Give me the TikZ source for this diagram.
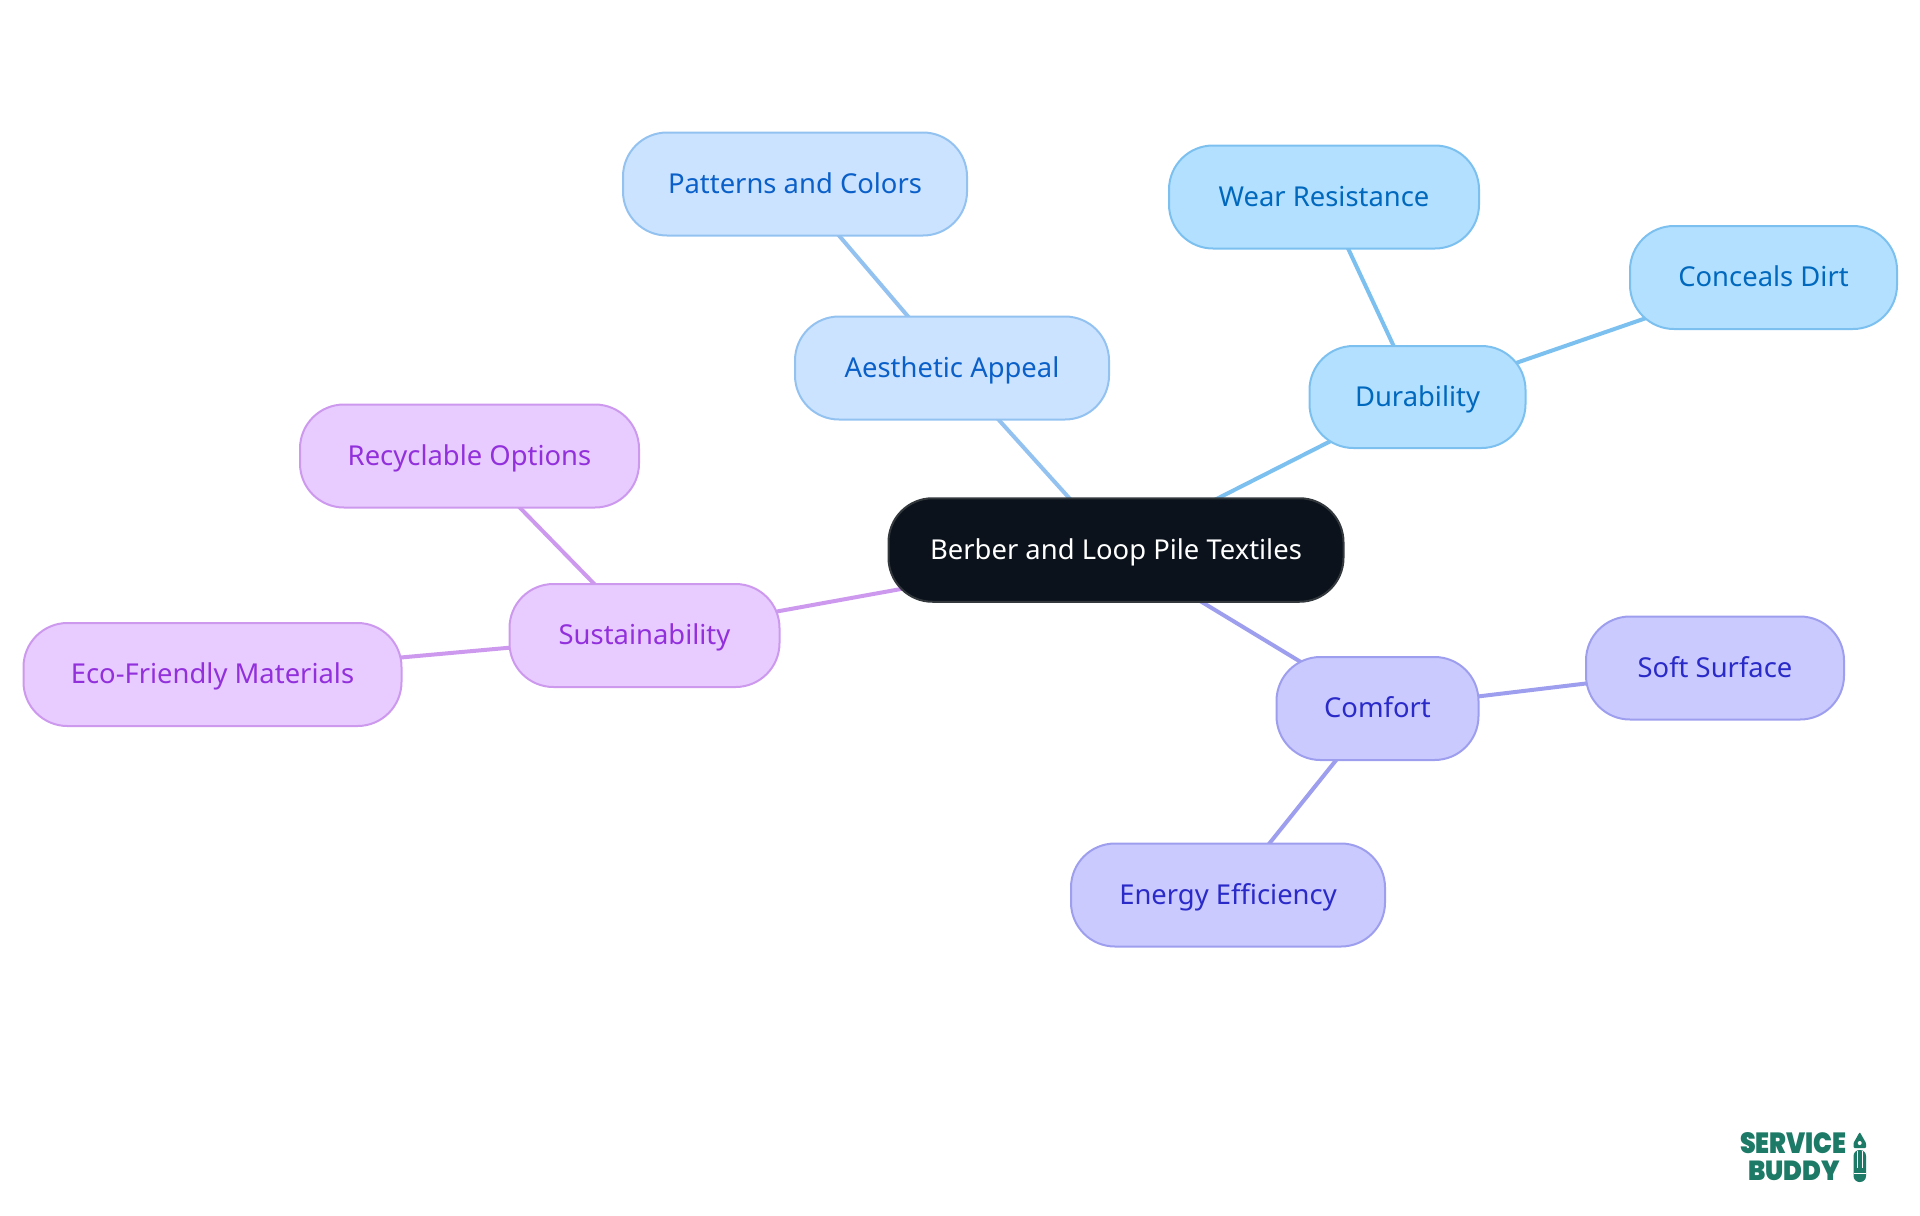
\documentclass[tikz,border=0pt]{standalone}
\usepackage{fontspec}
\setmainfont{Noto Sans}
\newfontfamily\logofont{Poppins Black}
\usetikzlibrary{backgrounds}
\definecolor{rootfill}{HTML}{0B121B}
\definecolor{rootline}{HTML}{33383D}
\definecolor{durfill}{HTML}{B3E0FF}
\definecolor{durline}{HTML}{7CC0F0}
\definecolor{durtext}{HTML}{0068BD}
\definecolor{aesfill}{HTML}{CCE3FF}
\definecolor{aesline}{HTML}{93C2F1}
\definecolor{aestext}{HTML}{0A60C8}
\definecolor{susfill}{HTML}{E8CCFF}
\definecolor{susline}{HTML}{CC99EE}
\definecolor{sustext}{HTML}{9230DC}
\definecolor{comfill}{HTML}{CACAFF}
\definecolor{comline}{HTML}{9E9EEE}
\definecolor{comtext}{HTML}{2A2AC8}
\definecolor{logogreen}{HTML}{1C7A66}
\tikzset{
  x=0.5pt,y=-0.5pt,
  mind/.style={rounded corners=22pt,line width=1pt,inner sep=0pt,anchor=center,
    text height=12.5pt,text depth=3.5pt,font=\fontsize{13.7}{16}\selectfont},
  rootnode/.style={mind,fill=rootfill,draw=rootline,text=white},
  durnode/.style={mind,fill=durfill,draw=durline,text=durtext},
  aesnode/.style={mind,fill=aesfill,draw=aesline,text=aestext},
  susnode/.style={mind,fill=susfill,draw=susline,text=sustext},
  comnode/.style={mind,fill=comfill,draw=comline,text=comtext},
  edge/.style={line width=2pt},
  logotext/.style={inner sep=0pt,anchor=center,text=logogreen,font=\logofont\fontsize{13.5}{14}\selectfont}
}
\newcommand{\bx}[5]{\node[#1,minimum width=#2*0.5pt,minimum height=#3*0.5pt] (#4) at #5}
\begin{document}
\begin{tikzpicture}
\useasboundingbox (0,0) rectangle (1920,1215);
\bx{rootnode}{455}{103.5}{root}{(1116,550)} {Berber and Loop Pile Textiles};
\bx{durnode}{216}{102}{dur}{(1417.5,397)} {Durability};
\bx{durnode}{310}{103}{wear}{(1324,197)} {Wear Resistance};
\bx{durnode}{267}{103}{dirt}{(1763.5,277.5)} {Conceals Dirt};
\bx{aesnode}{314}{103}{aes}{(952,368)} {Aesthetic Appeal};
\bx{aesnode}{344}{103}{pat}{(795,184)} {Patterns and Colors};
\bx{susnode}{270}{103}{sus}{(644.5,635.5)} {Sustainability};
\bx{susnode}{339}{103}{rec}{(469.5,456)} {Recyclable Options};
\bx{susnode}{378}{103}{eco}{(212.5,674.5)} {Eco-Friendly Materials};
\bx{comnode}{202}{103}{com}{(1377.5,708.5)} {Comfort};
\bx{comnode}{258}{103}{soft}{(1715,668)} {Soft Surface};
\bx{comnode}{314}{103}{ener}{(1228,895)} {Energy Efficiency};
\begin{pgfonlayer}{background}
\draw[edge,durline] (root.center) -- (dur.center);
\draw[edge,durline] (dur.center) -- (wear.center);
\draw[edge,durline] (dur.center) -- (dirt.center);
\draw[edge,aesline] (root.center) -- (aes.center);
\draw[edge,aesline] (aes.center) -- (pat.center);
\draw[edge,susline] (root.center) -- (sus.center);
\draw[edge,susline] (sus.center) -- (rec.center);
\draw[edge,susline] (sus.center) -- (eco.center);
\draw[edge,comline] (root.center) -- (com.center);
\draw[edge,comline] (com.center) -- (soft.center);
\draw[edge,comline] (com.center) -- (ener.center);
\end{pgfonlayer}
\node[logotext] (logoa) at (1793.5,1143.5) {\scalebox{0.93}[1.08]{SERVICE}};
\node[logotext] (logob) at (1794,1170.5) {\scalebox{0.94}[1.02]{BUDDY}};
% pencil mark
\fill[logogreen,rounded corners=0.5pt] (1859.7,1132) -- (1866,1143) -- (1866,1148) -- (1853.5,1148) -- (1853.5,1143) -- cycle;
\fill[logogreen,rounded corners=3pt] (1853.5,1150) rectangle (1866,1182);
\fill[white] (1859.7,1143) circle (1pt);
\draw[white,line width=0.3pt] (1857.5,1151) -- (1857.5,1168) (1861.8,1151) -- (1861.8,1168);
\draw[white,line width=0.5pt] (1854,1173.5) -- (1866,1173.5);
\end{tikzpicture}
\end{document}
